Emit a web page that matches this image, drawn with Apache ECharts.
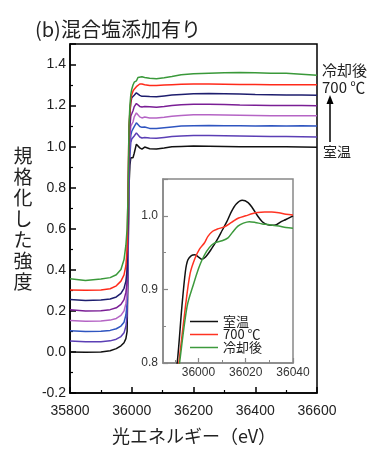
<!DOCTYPE html>
<html>
<head>
<meta charset="utf-8">
<script src="https://cdn.jsdelivr.net/npm/echarts@6/dist/echarts.min.js"></script>
<style>
  html, body { margin: 0; padding: 0; background: #fff; }
  #chart { width: 380px; height: 460px; }
</style>
</head>
<body>
<div id="chart"></div>
<script>
// energy grid shared by the 8 stacked spectra (eV)
var energy = [35800, 35850, 35900, 35930, 35950, 35965, 35975, 35981, 35985, 35988, 35991, 35994, 35997, 36000,
  36004, 36008, 36015, 36020, 36026, 36033, 36042, 36058, 36080, 36105, 36130, 36160, 36200, 36250, 36300,
  36350, 36400, 36450, 36500, 36550, 36600];

// bottom (室温) to top (冷却後)
var specBlack = [0.0, -0.002, 0.0, 0.006, 0.016, 0.03, 0.045, 0.065, 0.1, 0.42, 0.8, 0.91, 0.946, 0.944,
  0.946, 0.968, 1.012, 1.02, 0.994, 0.988, 0.998, 0.99, 0.989, 0.993, 0.999, 1.001, 1.003, 1.002, 1.001,
  1.0, 0.999, 1.0, 0.999, 0.998, 0.997];
var specSlate = [0.053, 0.05, 0.05, 0.054, 0.062, 0.075, 0.093, 0.125, 0.175, 0.47, 0.84, 0.96, 1.02, 1.037,
  1.04, 1.052, 1.067, 1.06, 1.047, 1.042, 1.045, 1.042, 1.041, 1.045, 1.049, 1.052, 1.054, 1.054, 1.053,
  1.052, 1.051, 1.05, 1.049, 1.048, 1.047];
var specBlue = [0.103, 0.1, 0.101, 0.105, 0.113, 0.126, 0.145, 0.18, 0.235, 0.52, 0.88, 1.0, 1.055, 1.075,
  1.08, 1.098, 1.116, 1.11, 1.098, 1.094, 1.096, 1.089, 1.088, 1.092, 1.096, 1.1, 1.102, 1.103, 1.102,
  1.102, 1.101, 1.102, 1.101, 1.102, 1.101];
var specOrchid = [0.153, 0.15, 0.151, 0.155, 0.163, 0.178, 0.2, 0.235, 0.29, 0.57, 0.93, 1.05, 1.1, 1.107,
  1.12, 1.145, 1.164, 1.158, 1.145, 1.14, 1.144, 1.14, 1.139, 1.143, 1.148, 1.152, 1.155, 1.155, 1.154,
  1.153, 1.152, 1.151, 1.151, 1.15, 1.15];
var specPurple = [0.205, 0.2, 0.201, 0.206, 0.215, 0.232, 0.255, 0.29, 0.34, 0.62, 0.98, 1.1, 1.15, 1.16,
  1.175, 1.195, 1.21, 1.205, 1.196, 1.193, 1.195, 1.194, 1.192, 1.195, 1.2, 1.204, 1.206, 1.206, 1.205,
  1.203, 1.202, 1.201, 1.2, 1.2, 1.199];
var specNavy = [0.255, 0.251, 0.253, 0.258, 0.268, 0.285, 0.31, 0.345, 0.4, 0.7, 1.05, 1.16, 1.215, 1.238,
  1.24, 1.25, 1.262, 1.258, 1.25, 1.245, 1.246, 1.244, 1.243, 1.247, 1.251, 1.254, 1.258, 1.259, 1.258,
  1.256, 1.254, 1.253, 1.252, 1.251, 1.25];
var specRed = [0.302, 0.3, 0.302, 0.308, 0.322, 0.345, 0.375, 0.42, 0.5, 0.8, 1.1, 1.17, 1.225, 1.253,
  1.27, 1.28, 1.292, 1.3, 1.305, 1.305, 1.302, 1.298, 1.298, 1.3, 1.302, 1.304, 1.305, 1.305, 1.304,
  1.303, 1.303, 1.302, 1.302, 1.302, 1.301];
var specGreen = [0.356, 0.348, 0.355, 0.362, 0.376, 0.402, 0.45, 0.52, 0.6, 0.76, 1.1, 1.2, 1.255, 1.28,
  1.3, 1.314, 1.32, 1.337, 1.342, 1.34, 1.337, 1.333, 1.331, 1.336, 1.342, 1.35, 1.355, 1.358, 1.36,
  1.361, 1.36, 1.358, 1.357, 1.353, 1.348];

var stackColors = ['#111111', '#5b3fb5', '#2f55c0', '#b565c5', '#7a1e95', '#1e1e6e', '#ff2a1a', '#3a993a'];
var stackData = [specBlack, specSlate, specBlue, specOrchid, specPurple, specNavy, specRed, specGreen];

// inset: normalized edge region
var insetNames = ['室温', '700 ℃', '冷却後'];
var insetColors = ['#111111', '#ff3322', '#3d9a3d'];
var insetRT = [[35989, 0.76], [35991, 0.80], [35993, 0.877], [35994.5, 0.925], [35995.5, 0.94], [35997, 0.946],
  [35998.5, 0.947], [36000, 0.944], [36001.5, 0.941], [36003, 0.944], [36005.5, 0.955], [36008, 0.968],
  [36010, 0.98], [36012, 0.992], [36014, 1.006], [36016, 1.016], [36018.5, 1.021], [36021, 1.018],
  [36023, 1.01], [36025, 1.0], [36027, 0.992], [36029, 0.988], [36031, 0.987], [36033, 0.988],
  [36035, 0.992], [36037, 0.995], [36040, 1.0]];
var insetHot = [[35990, 0.76], [35991.7, 0.80], [35994.5, 0.877], [35996.5, 0.922], [35998.5, 0.942],
  [36000.5, 0.955], [36002.5, 0.963], [36004, 0.972], [36006, 0.979], [36008, 0.982], [36011, 0.985],
  [36014, 0.991], [36017, 0.997], [36020, 1.0], [36023, 1.003], [36025, 1.0045], [36028, 1.005],
  [36031, 1.005], [36034, 1.004], [36037, 1.002], [36040, 1.001]];
var insetCooled = [[35990, 0.75], [35992, 0.80], [35995.2, 0.877], [35998, 0.908], [36000, 0.928],
  [36001.5, 0.94], [36003.5, 0.952], [36005.5, 0.96], [36007.5, 0.964], [36010, 0.966], [36012.5, 0.97],
  [36014.5, 0.978], [36016.7, 0.986], [36019, 0.99], [36021.5, 0.992], [36024, 0.991], [36027, 0.989],
  [36030, 0.988], [36034, 0.986], [36037, 0.984], [36040, 0.983]];

var insetMajor = [36000, 36020, 36040];
var insetMinor = [35990, 36010, 36030];

var chart = echarts.init(document.getElementById('chart'));
var jp = '"Noto Sans CJK JP", sans-serif';
var num = '"Liberation Sans", Arial, sans-serif';
var plain = function (v) { return String(v); };

var series = [];
stackData.forEach(function (vals, i) {
  series.push({
    type: 'line',
    xAxisIndex: 0,
    yAxisIndex: 0,
    showSymbol: false,
    z: 2 + i,
    lineStyle: { color: stackColors[i], width: 1.5 },
    data: energy.map(function (e, k) { return [e, vals[k]]; })
  });
});
[insetRT, insetHot, insetCooled].forEach(function (d, i) {
  series.push({
    name: insetNames[i],
    type: 'line',
    xAxisIndex: 1,
    yAxisIndex: 1,
    showSymbol: false,
    smooth: 0.3,
    itemStyle: { color: insetColors[i] },
    lineStyle: { color: insetColors[i], width: 1.5 },
    data: d
  });
});

var option = {
  animation: false,
  backgroundColor: '#fff',
  grid: [
    { left: 70, top: 44, width: 247, height: 349, show: true, borderColor: '#000', borderWidth: 1.5,
      backgroundColor: 'transparent', outerBoundsMode: 'none' },
    { left: 163, top: 179, width: 130, height: 184, show: true, borderColor: '#888', borderWidth: 1.5,
      backgroundColor: '#fff', outerBoundsMode: 'none' }
  ],
  xAxis: [
    {
      gridIndex: 0, type: 'value', min: 35800, max: 36600, interval: 200,
      axisLine: { onZero: false, lineStyle: { color: '#000', width: 1.5 } },
      axisTick: { inside: true, length: 6, lineStyle: { color: '#000', width: 1.5 } },
      minorTick: { show: true, splitNumber: 2, length: 3, lineStyle: { color: '#000', width: 1.2 } },
      axisLabel: { fontSize: 14, color: '#222', margin: 11, fontFamily: num, formatter: plain },
      splitLine: { show: false }
    },
    {
      gridIndex: 1, type: 'value', min: 35985, max: 36040, position: 'bottom',
      axisLine: { onZero: false, lineStyle: { color: '#888', width: 1.5 } },
      axisTick: { inside: true, length: 5, customValues: insetMajor, lineStyle: { color: '#888', width: 1.2 } },
      axisLabel: { fontSize: 12, color: '#333', margin: 4, fontFamily: num, customValues: insetMajor, formatter: plain },
      splitLine: { show: false }
    },
    {
      gridIndex: 1, type: 'value', min: 35985, max: 36040, position: 'bottom',
      axisLine: { show: false, onZero: false },
      axisTick: { inside: true, length: 3, customValues: insetMinor, lineStyle: { color: '#888', width: 1 } },
      axisLabel: { show: false },
      splitLine: { show: false }
    }
  ],
  yAxis: [
    {
      gridIndex: 0, type: 'value', min: -0.2, max: 1.5, interval: 0.2,
      axisLine: { onZero: false, lineStyle: { color: '#000', width: 1.5 } },
      axisTick: { inside: true, length: 6, lineStyle: { color: '#000', width: 1.5 } },
      minorTick: { show: true, splitNumber: 2, length: 3, lineStyle: { color: '#000', width: 1.2 } },
      axisLabel: {
        fontSize: 14, color: '#222', margin: 4, fontFamily: num, showMaxLabel: false,
        formatter: function (v) { return v.toFixed(1); }
      },
      splitLine: { show: false }
    },
    {
      gridIndex: 1, type: 'value', min: 0.8, max: 1.05, interval: 0.1,
      axisLine: { onZero: false, lineStyle: { color: '#888', width: 1.5 } },
      axisTick: { inside: true, length: 5, lineStyle: { color: '#888', width: 1.2 } },
      minorTick: { show: true, splitNumber: 2, length: 3, lineStyle: { color: '#888', width: 1 } },
      axisLabel: {
        fontSize: 12, color: '#333', margin: 5, fontFamily: num, showMaxLabel: false,
        formatter: function (v) { return v.toFixed(1); }
      },
      splitLine: { show: false }
    }
  ],
  legend: {
    data: insetNames,
    orient: 'vertical',
    left: 190,
    top: 315,
    padding: 0,
    itemGap: 0,
    itemWidth: 28,
    itemHeight: 1.5,
    icon: 'rect',
    textStyle: { fontSize: 13, color: '#222', fontFamily: jp, lineHeight: 13 }
  },
  graphic: [
    { type: 'text', left: 35, top: 19,
      style: { text: '(b)混合塩添加有り', font: '20px ' + jp, fill: '#222' } },
    { type: 'text', x: 23, y: 219,
      style: { text: '規\n格\n化\nし\nた\n強\n度', font: '19px ' + jp, lineHeight: 21, fill: '#222',
        textAlign: 'center', textVerticalAlign: 'middle' } },
    { type: 'text', x: 112, y: 436,
      style: { text: '光エネルギー（eV）', font: '18px ' + jp, fill: '#222', textAlign: 'left', textVerticalAlign: 'middle' } },
    { type: 'text', x: 322, y: 70,
      style: { text: '冷却後', font: '15px ' + jp, fill: '#222', textVerticalAlign: 'middle' } },
    { type: 'text', x: 322, y: 87,
      style: { text: '700 ℃', font: '15px ' + jp, fill: '#222', textVerticalAlign: 'middle' } },
    { type: 'text', x: 323, y: 152,
      style: { text: '室温', font: '14px ' + jp, fill: '#222', textVerticalAlign: 'middle' } },
    { type: 'line', shape: { x1: 330, y1: 142, x2: 330, y2: 101 }, style: { stroke: '#000', lineWidth: 1.5 } },
    { type: 'polygon', shape: { points: [[330, 95], [326.5, 104], [333.5, 104]] }, style: { fill: '#000' } }
  ],
  series: series
};

chart.setOption(option);
</script>
</body>
</html>
